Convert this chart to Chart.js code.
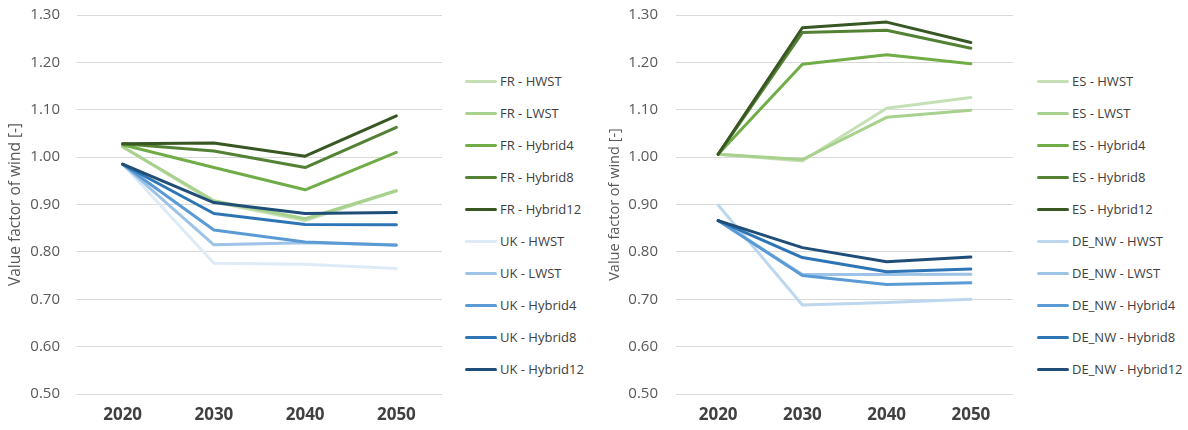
<!DOCTYPE html>
<html>
<head>
<meta charset="utf-8">
<script src="https://cdn.jsdelivr.net/npm/chart.js@4/dist/chart.umd.min.js"></script>
<style>
  html, body { margin: 0; padding: 0; background: #ffffff; }
  #wrap { position: relative; width: 1188px; height: 430px; overflow: hidden; font-family: "Open Sans", "Noto Sans", sans-serif; }
  canvas { position: absolute; top: 0; }
  .legend { position: absolute; top: 0; }
  .item { position: absolute; left: 0; height: 20px; white-space: nowrap; font-size: 13px; color: #404040; line-height: 20px; }
  .swatch { position: absolute; left: 0; top: 8.5px; width: 32px; height: 3px; border-radius: 1.5px; }
  .item span { position: absolute; left: 35px; top: 0; }
</style>
</head>
<body>
<div id="wrap">
  <canvas id="chartA" width="455" height="430" style="left:0px"></canvas>
  <canvas id="chartB" width="430" height="430" style="left:590px"></canvas>
  <div id="legendA" class="legend" style="left:465px"></div>
  <div id="legendB" class="legend" style="left:1037px"></div>
</div>
<script>
// Categories and tick labels
const years = ['2020', '2030', '2040', '2050'];
const yTickValues = [0.5, 0.6, 0.7, 0.8, 0.9, 1.0, 1.1, 1.2, 1.3];
const scenarios = ['HWST', 'LWST', 'Hybrid4', 'Hybrid8', 'Hybrid12'];

// Value factor of wind, France
const FR_HWST     = [1.022, 0.905, 0.866, 0.929];
const FR_LWST     = [1.022, 0.908, 0.870, 0.929];
const FR_Hybrid4  = [1.026, 0.978, 0.931, 1.010];
const FR_Hybrid8  = [1.028, 1.013, 0.978, 1.063];
const FR_Hybrid12 = [1.028, 1.030, 1.002, 1.087];

// Value factor of wind, United Kingdom
const UK_HWST     = [0.985, 0.776, 0.774, 0.765];
const UK_LWST     = [0.985, 0.815, 0.819, 0.815];
const UK_Hybrid4  = [0.985, 0.846, 0.821, 0.814];
const UK_Hybrid8  = [0.985, 0.881, 0.858, 0.857];
const UK_Hybrid12 = [0.985, 0.904, 0.881, 0.883];

// Value factor of wind, Spain
const ES_HWST     = [1.006, 0.992, 1.103, 1.126];
const ES_LWST     = [1.006, 0.995, 1.084, 1.099];
const ES_Hybrid4  = [1.006, 1.196, 1.216, 1.197];
const ES_Hybrid8  = [1.006, 1.263, 1.268, 1.230];
const ES_Hybrid12 = [1.006, 1.273, 1.285, 1.242];

// Value factor of wind, north-west Germany
const DE_NW_HWST     = [0.899, 0.688, 0.693, 0.700];
const DE_NW_LWST     = [0.866, 0.752, 0.752, 0.753];
const DE_NW_Hybrid4  = [0.866, 0.750, 0.731, 0.735];
const DE_NW_Hybrid8  = [0.866, 0.788, 0.758, 0.764];
const DE_NW_Hybrid12 = [0.866, 0.809, 0.779, 0.789];

const greens  = ['#c5e0b4', '#a9d18e', '#70ad47', '#548235', '#385723'];
const bluesUK = ['#deebf7', '#9dc3e6', '#5b9bd5', '#2e75b6', '#1f4e79'];
const bluesDE = ['#bdd7ee', '#9dc3e6', '#5b9bd5', '#2e75b6', '#1f4e79'];

Chart.defaults.font.family = '"Open Sans", "Noto Sans", sans-serif';

function makeSeries(region, valueSets, colors) {
  return valueSets.map((vals, i) => ({
    label: region + ' - ' + scenarios[i],
    data: vals,
    color: colors[i]
  }));
}

const leftSeries = makeSeries('FR', [FR_HWST, FR_LWST, FR_Hybrid4, FR_Hybrid8, FR_Hybrid12], greens)
  .concat(makeSeries('UK', [UK_HWST, UK_LWST, UK_Hybrid4, UK_Hybrid8, UK_Hybrid12], bluesUK));
const rightSeries = makeSeries('ES', [ES_HWST, ES_LWST, ES_Hybrid4, ES_Hybrid8, ES_Hybrid12], greens)
  .concat(makeSeries('DE_NW', [DE_NW_HWST, DE_NW_LWST, DE_NW_Hybrid4, DE_NW_Hybrid8, DE_NW_Hybrid12], bluesDE));

function buildChart(canvasId, series, cfg) {
  const n = series.length;
  return new Chart(document.getElementById(canvasId), {
    type: 'line',
    data: {
      labels: years,
      datasets: series.map((s, i) => ({
        label: s.label,
        data: s.data,
        borderColor: s.color,
        backgroundColor: s.color,
        borderWidth: 3,
        pointRadius: 0,
        pointHoverRadius: 0,
        tension: 0,
        fill: false,
        borderJoinStyle: 'round',
        borderCapStyle: 'round',
        order: n - i
      }))
    },
    options: {
      responsive: false,
      animation: false,
      devicePixelRatio: 1,
      layout: { padding: { top: 15, right: cfg.padRight, bottom: 0, left: 0 } },
      plugins: { legend: { display: false }, tooltip: { enabled: false } },
      scales: {
        x: {
          offset: true,
          grid: { display: false, drawTicks: false },
          border: { display: false },
          ticks: { color: '#404040', padding: 11, font: { size: 17, weight: 'bold' } },
          afterFit: s => { s.height = 36; }
        },
        y: {
          min: 0.5,
          max: 1.3,
          afterBuildTicks: s => { s.ticks = yTickValues.map(v => ({ value: v })); },
          grid: { color: '#d9d9d9', lineWidth: 1, drawTicks: false },
          border: { display: false },
          ticks: { color: '#595959', padding: cfg.tickPad, font: { size: 15 }, callback: v => Number(v).toFixed(2) },
          title: { display: true, text: 'Value factor of wind [-]', color: '#595959',
                   font: { size: cfg.titleSize }, padding: { top: cfg.titlePad, bottom: 0 } },
          afterFit: s => { s.width = cfg.yWidth; s.paddingTop = 0; s.paddingBottom = 0; }
        }
      }
    }
  });
}

const chartA = buildChart('chartA', leftSeries, { padRight: 13, yWidth: 77, tickPad: 17, titleSize: 15.5, titlePad: 6 });
const chartB = buildChart('chartB', rightSeries, { padRight: 7, yWidth: 86, tickPad: 18, titleSize: 14.5, titlePad: 16 });

// Legend entries built from each chart's datasets
const legendRows = [81, 113, 145, 177, 209, 241, 273, 305, 337, 369];
function buildLegend(chart, elId) {
  const el = document.getElementById(elId);
  chart.data.datasets.forEach((ds, i) => {
    const item = document.createElement('div');
    item.className = 'item';
    item.style.top = (legendRows[i] - 10) + 'px';
    const sw = document.createElement('div');
    sw.className = 'swatch';
    sw.style.background = ds.borderColor;
    const txt = document.createElement('span');
    txt.textContent = ds.label;
    item.appendChild(sw);
    item.appendChild(txt);
    el.appendChild(item);
  });
}
buildLegend(chartA, 'legendA');
buildLegend(chartB, 'legendB');
</script>
</body>
</html>
